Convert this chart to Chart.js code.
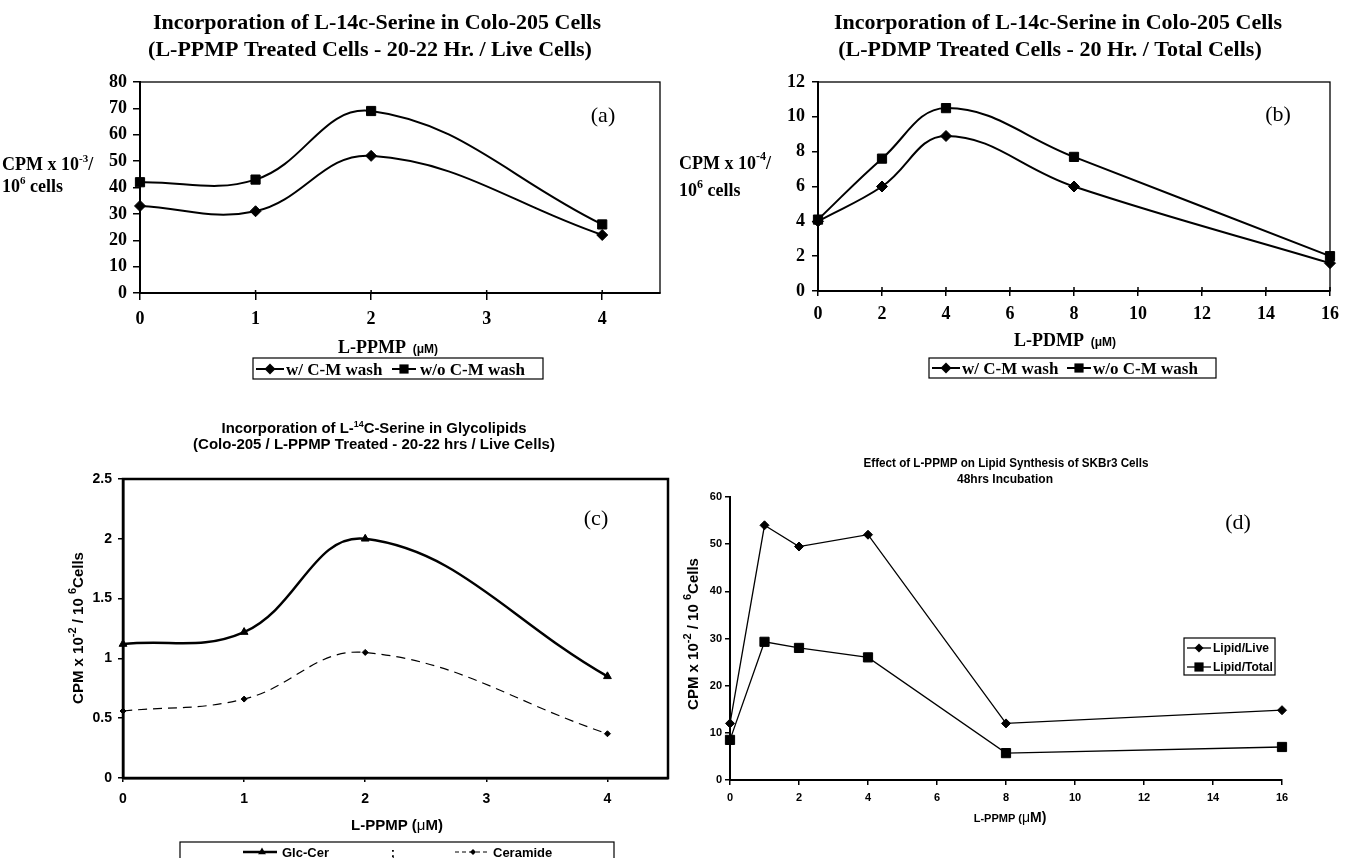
<!DOCTYPE html>
<html>
<head>
<meta charset="utf-8">
<script src="https://cdn.jsdelivr.net/npm/chart.js@4.4.1/dist/chart.umd.min.js"></script>
<style>
html, body { margin: 0; padding: 0; background: #fff; }
#page { position: relative; width: 1351px; height: 858px; overflow: hidden; background: #fff; }
canvas { position: absolute; }
</style>
</head>
<body>
<div id="page">
  <canvas id="chartA" width="680" height="390" style="left:0;top:0"></canvas>
  <canvas id="chartB" width="671" height="390" style="left:680px;top:0"></canvas>
  <canvas id="chartC" width="680" height="468" style="left:0;top:390px"></canvas>
  <canvas id="chartD" width="671" height="468" style="left:680px;top:390px"></canvas>
</div>
<script>
// ---- data ----
const doseA = [0, 1, 2, 4];
const washA = [33, 31, 52, 22];
const noWashA = [42, 43, 69, 26];
const xTicksA = [0, 1, 2, 3, 4];
const yTicksA = [0, 10, 20, 30, 40, 50, 60, 70, 80];

const doseB = [0, 2, 4, 8, 16];
const washB = [4.0, 6.0, 8.9, 6.0, 1.6];
const noWashB = [4.1, 7.6, 10.5, 7.7, 2.0];
const xTicksB = [0, 2, 4, 6, 8, 10, 12, 14, 16];
const yTicksB = [0, 2, 4, 6, 8, 10, 12];

const doseC = [0, 1, 2, 4];
const glcCerC = [1.12, 1.22, 2.0, 0.85];
const ceramideC = [0.56, 0.66, 1.05, 0.37];
const xTicksC = [0, 1, 2, 3, 4];
const yTicksC = [0, 0.5, 1, 1.5, 2, 2.5];

const doseD = [0, 1, 2, 4, 8, 16];
const lipidLiveD = [12, 54, 49.5, 52, 12, 14.8];
const lipidTotalD = [8.5, 29.3, 28, 26, 5.7, 7];
const xTicksD = [0, 2, 4, 6, 8, 10, 12, 14, 16];
const yTicksD = [0, 10, 20, 30, 40, 50, 60];

const washLabels = ['w/ C-M wash', 'w/o C-M wash'];
const glycoLabels = ['Glc-Cer', 'Ceramide'];
const lipidLabels = ['Lipid/Live', 'Lipid/Total'];

const SERIF = '"Liberation Serif", "Times New Roman", serif';
const SANS = '"Liberation Sans", Arial, sans-serif';

function pts(xs, ys) { return xs.map((x, i) => ({ x: x, y: ys[i] })); }

// text made of runs, optional superscripts, optional rotation
function drawRich(ctx, t) {
  ctx.save();
  ctx.translate(t.x, t.y);
  if (t.rot) ctx.rotate(t.rot);
  ctx.textBaseline = 'alphabetic';
  ctx.textAlign = 'left';
  ctx.fillStyle = '#000';
  const widths = t.parts.map(p => { ctx.font = p.f; return ctx.measureText(p.t).width; });
  const total = widths.reduce((s, w) => s + w, 0);
  if (t.w && total > t.w) ctx.scale(t.w / total, 1);
  let x = t.align === 'center' ? -total / 2 : (t.align === 'right' ? -total : 0);
  t.parts.forEach((p, i) => { ctx.font = p.f; ctx.fillText(p.t, x, p.dy || 0); x += widths[i]; });
  ctx.restore();
}

function marker(ctx, style, x, y, r) {
  ctx.beginPath();
  if (style === 'rect') {
    const s = Math.SQRT1_2 * r;
    ctx.rect(x - s, y - s, 2 * s, 2 * s);
  } else if (style === 'rectRot') {
    ctx.moveTo(x - r, y); ctx.lineTo(x, y - r); ctx.lineTo(x + r, y); ctx.lineTo(x, y + r); ctx.closePath();
  } else if (style === 'triangle') {
    let a = 0;
    ctx.moveTo(x + Math.sin(a) * r, y - Math.cos(a) * r);
    a += 2 * Math.PI / 3; ctx.lineTo(x + Math.sin(a) * r, y - Math.cos(a) * r);
    a += 2 * Math.PI / 3; ctx.lineTo(x + Math.sin(a) * r, y - Math.cos(a) * r);
    ctx.closePath();
  }
  ctx.fill();
}

function drawLegend(ctx, lg) {
  ctx.save();
  ctx.strokeStyle = '#000';
  ctx.fillStyle = '#000';
  ctx.lineWidth = 1.2;
  const b = lg.box;
  ctx.strokeRect(b[0], b[1], b[2] - b[0], b[3] - b[1]);
  lg.items.forEach(it => {
    ctx.lineWidth = it.lw;
    ctx.setLineDash(it.dash || []);
    ctx.beginPath(); ctx.moveTo(it.x0, it.y); ctx.lineTo(it.x1, it.y); ctx.stroke();
    ctx.setLineDash([]);
    marker(ctx, it.style, it.mx, it.y, it.r);
    ctx.font = lg.font;
    ctx.textBaseline = 'alphabetic';
    ctx.textAlign = 'left';
    ctx.fillText(it.text, it.tx, it.y + lg.base);
  });
  ctx.restore();
}

const deco = {
  id: 'deco',
  afterDraw(chart, args, o) {
    const ctx = chart.ctx, a = chart.chartArea;
    ctx.save();
    ctx.strokeStyle = '#000';
    if (o.frame) {
      ctx.lineWidth = o.frame;
      ctx.strokeRect(a.left, a.top, a.right - a.left, a.bottom - a.top);
    }
    if (o.innerX) {
      const sx = chart.scales.x;
      ctx.lineWidth = 1.5;
      ctx.beginPath();
      sx.ticks.forEach(t => {
        const px = sx.getPixelForValue(t.value);
        ctx.moveTo(px, a.bottom); ctx.lineTo(px, a.bottom - o.innerX);
      });
      ctx.stroke();
    }
    ctx.restore();
    (o.texts || []).forEach(t => drawRich(ctx, t));
    if (o.legend) drawLegend(ctx, o.legend);
  }
};

function axis(ax) {
  return {
    type: 'linear',
    min: ax.min, max: ax.max,
    afterFit: s => { if (ax.w) s.width = ax.w; if (ax.h) s.height = ax.h; },
    afterBuildTicks: s => { s.ticks = ax.ticks.map(v => ({ value: v })); },
    grid: { drawOnChartArea: false, color: '#000', tickLength: ax.tl, lineWidth: ax.tw || 1.5 },
    border: { display: true, color: '#000', width: ax.bw },
    ticks: { color: '#000', padding: ax.pad, font: ax.font, maxRotation: 0, autoSkip: false,
             callback: v => String(v) }
  };
}

function panel(id, p) {
  return new Chart(document.getElementById(id), {
    type: 'line',
    data: { datasets: p.datasets },
    options: {
      responsive: false,
      animation: false,
      devicePixelRatio: 1,
      layout: { padding: { left: 0, top: p.top, right: p.right, bottom: 0 } },
      plugins: { legend: { display: false }, tooltip: { enabled: false }, title: { display: false }, deco: p.deco },
      scales: { x: axis(p.x), y: axis(p.y) }
    },
    plugins: [deco]
  });
}

function series(label, data, style, r, extra) {
  return Object.assign({
    label: label, data: data,
    borderColor: '#000', backgroundColor: '#000',
    pointBackgroundColor: '#000', pointBorderColor: '#000', pointBorderWidth: 1,
    pointStyle: style, pointRadius: r, pointHoverRadius: r,
    borderWidth: 2, tension: 0.4, clip: false
  }, extra || {});
}

const serifTick = { family: SERIF, size: 18, weight: 'bold' };
const R = (t, f, dy) => ({ t: t, f: f, dy: dy });

// ---- (a) ----
panel('chartA', {
  top: 82, right: 20,
  x: { min: 0, max: 4.5, ticks: xTicksA, h: 97, tl: 7, pad: 9, bw: 2, font: serifTick },
  y: { min: 0, max: 80, ticks: yTicksA, w: 140, tl: 7, pad: 6, bw: 2, font: serifTick },
  datasets: [
    series(washLabels[0], pts(doseA, washA), 'rectRot', 5.5),
    series(washLabels[1], pts(doseA, noWashA), 'rect', 6.5)
  ],
  deco: {
    frame: 1.3, innerX: 3,
    texts: [
      { x: 377, y: 29, align: 'center', w: 460, parts: [R('Incorporation of L-14c-Serine in Colo-205 Cells', 'bold 22px ' + SERIF)] },
      { x: 370, y: 56, align: 'center', w: 450, parts: [R('(L-PPMP Treated Cells - 20-22 Hr. / Live Cells)', 'bold 22px ' + SERIF)] },
      { x: 2, y: 170, parts: [R('CPM x 10', 'bold 18px ' + SERIF), R('-3', 'bold 11px ' + SERIF, -8), R('/', 'bold 18px ' + SERIF)] },
      { x: 2, y: 192, parts: [R('10', 'bold 18px ' + SERIF), R('6', 'bold 11px ' + SERIF, -8), R(' cells', 'bold 18px ' + SERIF)] },
      { x: 603, y: 122, align: 'center', parts: [R('(a)', '22px ' + SERIF)] },
      { x: 338, y: 353, parts: [R('L-PPMP', 'bold 18px ' + SERIF), R('  (\u03bcM)', 'bold 12px ' + SANS)] }
    ],
    legend: {
      box: [253, 358, 543, 379], font: 'bold 17px ' + SERIF, base: 6,
      items: [
        { x0: 256, x1: 284, mx: 270, y: 369, lw: 2, style: 'rectRot', r: 5.5, tx: 286, text: washLabels[0] },
        { x0: 392, x1: 416, mx: 404, y: 369, lw: 2, style: 'rect', r: 6.5, tx: 420, text: washLabels[1] }
      ]
    }
  }
});

// ---- (b) ----
panel('chartB', {
  top: 82, right: 21,
  x: { min: 0, max: 16, ticks: xTicksB, h: 99, tl: 5, pad: 8, bw: 2, font: serifTick },
  y: { min: 0, max: 12, ticks: yTicksB, w: 138, tl: 6, pad: 7, bw: 2, font: serifTick },
  datasets: [
    series(washLabels[0], pts(doseB, washB), 'rectRot', 5.5),
    series(washLabels[1], pts(doseB, noWashB), 'rect', 6.5)
  ],
  deco: {
    frame: 1.3, innerX: 4,
    texts: [
      { x: 378, y: 29, align: 'center', w: 460, parts: [R('Incorporation of L-14c-Serine in Colo-205 Cells', 'bold 22px ' + SERIF)] },
      { x: 370, y: 56, align: 'center', w: 433, parts: [R('(L-PDMP Treated Cells - 20 Hr. / Total Cells)', 'bold 22px ' + SERIF)] },
      { x: -1, y: 169, parts: [R('CPM x 10', 'bold 18px ' + SERIF), R('-4', 'bold 12px ' + SERIF, -9), R('/', 'bold 18px ' + SERIF)] },
      { x: -1, y: 196, parts: [R('10', 'bold 18px ' + SERIF), R('6', 'bold 12px ' + SERIF, -8), R(' cells', 'bold 18px ' + SERIF)] },
      { x: 598, y: 121, align: 'center', parts: [R('(b)', '22px ' + SERIF)] },
      { x: 334, y: 346, parts: [R('L-PDMP', 'bold 18px ' + SERIF), R('  (\u03bcM)', 'bold 12px ' + SANS)] }
    ],
    legend: {
      box: [249, 358, 536, 378], font: 'bold 17px ' + SERIF, base: 6,
      items: [
        { x0: 252, x1: 280, mx: 266, y: 368, lw: 2, style: 'rectRot', r: 5.5, tx: 282, text: washLabels[0] },
        { x0: 387, x1: 411, mx: 399, y: 368, lw: 2, style: 'rect', r: 6.5, tx: 413, text: washLabels[1] }
      ]
    }
  }
});

// ---- (c) ----
const sansTickC = { family: SANS, size: 14, weight: 'bold' };
panel('chartC', {
  top: 89, right: 12,
  x: { min: 0, max: 4.5, ticks: xTicksC, h: 80, tl: 4, pad: 9, bw: 2.5, font: sansTickC },
  y: { min: 0, max: 2.5, ticks: yTicksC, w: 123, tl: 5, pad: 6, bw: 2.5, font: sansTickC },
  datasets: [
    series(glycoLabels[0], pts(doseC, glcCerC), 'triangle', 4.5, { borderWidth: 2.5 }),
    series(glycoLabels[1], pts(doseC, ceramideC), 'rectRot', 3, { borderWidth: 1.2, borderDash: [9, 6] })
  ],
  deco: {
    frame: 2.5,
    texts: [
      { x: 374, y: 43, align: 'center', w: 305, parts: [R('Incorporation of L-', 'bold 15px ' + SANS), R('14', 'bold 9px ' + SANS, -6), R('C-Serine in Glycolipids', 'bold 15px ' + SANS)] },
      { x: 374, y: 59, align: 'center', w: 362, parts: [R('(Colo-205 / L-PPMP Treated - 20-22 hrs / Live Cells)', 'bold 15px ' + SANS)] },
      { x: 83, y: 238, rot: -Math.PI / 2, align: 'center', parts: [R('CPM x 10', 'bold 15px ' + SANS), R('-2', 'bold 11px ' + SANS, -7), R(' / 10 ', 'bold 15px ' + SANS), R('6', 'bold 11px ' + SANS, -7), R('Cells', 'bold 15px ' + SANS)] },
      { x: 397, y: 440, align: 'center', parts: [R('L-PPMP (', 'bold 15px ' + SANS), R('\u03bc', '15px ' + SANS), R('M)', 'bold 15px ' + SANS)] },
      { x: 596, y: 135, align: 'center', parts: [R('(c)', '22px ' + SERIF)] },
      { x: 393, y: 467, align: 'center', parts: [R(';', 'bold 13px ' + SANS)] }
    ],
    legend: {
      box: [180, 452, 614, 490], font: 'bold 13px ' + SANS, base: 5,
      items: [
        { x0: 243, x1: 277, mx: 262, y: 462, lw: 2.5, style: 'triangle', r: 4.5, tx: 282, text: glycoLabels[0] },
        { x0: 455, x1: 490, mx: 473, y: 462, lw: 1, dash: [4, 3], style: 'rectRot', r: 3, tx: 493, text: glycoLabels[1] }
      ]
    }
  }
});

// ---- (d) ----
const sansTickD = { family: SANS, size: 11, weight: 'bold' };
panel('chartD', {
  top: 107, right: 69,
  x: { min: 0, max: 16, ticks: xTicksD, h: 78, tl: 5, pad: 6, bw: 2, font: sansTickD },
  y: { min: 0, max: 60, ticks: yTicksD, w: 50, tl: 5, pad: 3, bw: 2, font: sansTickD },
  datasets: [
    series(lipidLabels[0], pts(doseD, lipidLiveD), 'rectRot', 4.5, { borderWidth: 1.3, tension: 0 }),
    series(lipidLabels[1], pts(doseD, lipidTotalD), 'rect', 6.5, { borderWidth: 1.3, tension: 0 })
  ],
  deco: {
    texts: [
      { x: 326, y: 77, align: 'center', w: 285, parts: [R('Effect of L-PPMP on Lipid Synthesis of SKBr3 Cells', 'bold 12px ' + SANS)] },
      { x: 325, y: 93, align: 'center', parts: [R('48hrs Incubation', 'bold 12px ' + SANS)] },
      { x: 18, y: 244, rot: -Math.PI / 2, align: 'center', parts: [R('CPM x 10', 'bold 15px ' + SANS), R('-2', 'bold 11px ' + SANS, -7), R(' / 10 ', 'bold 15px ' + SANS), R('6', 'bold 11px ' + SANS, -7), R('Cells', 'bold 15px ' + SANS)] },
      { x: 330, y: 432, align: 'center', parts: [R('L-PPMP (', 'bold 11px ' + SANS), R('\u03bc', '14px ' + SANS), R('M)', 'bold 14px ' + SANS)] },
      { x: 558, y: 139, align: 'center', parts: [R('(d)', '22px ' + SERIF)] }
    ],
    legend: {
      box: [504, 248, 595, 285], font: 'bold 12px ' + SANS, base: 4,
      items: [
        { x0: 507, x1: 531, mx: 519, y: 258, lw: 1.3, style: 'rectRot', r: 4.5, tx: 533, text: lipidLabels[0] },
        { x0: 507, x1: 531, mx: 519, y: 277, lw: 1.3, style: 'rect', r: 6.5, tx: 533, text: lipidLabels[1] }
      ]
    }
  }
});
</script>
</body>
</html>
